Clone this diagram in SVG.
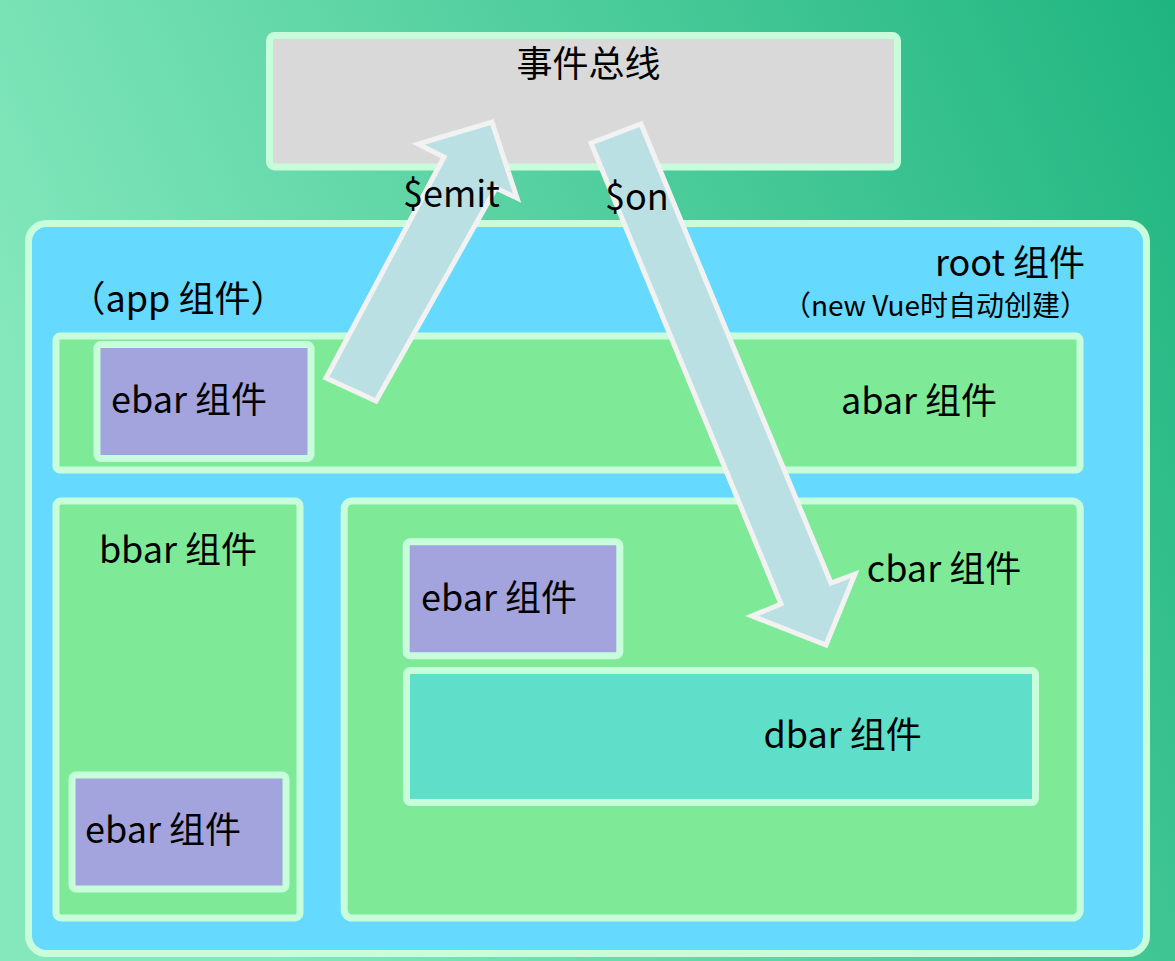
<svg xmlns="http://www.w3.org/2000/svg" width="1175" height="961" viewBox="0 0 1175 961">
<defs>
<linearGradient id="bg" x1="0" y1="0.35" x2="1" y2="0">
<stop offset="0" stop-color="#84e8bc"/>
<stop offset="1" stop-color="#1fb580"/>
</linearGradient>
<style>
.box{stroke:#c8fddb;stroke-width:7}
.bus{fill:#d9d9d9}
.root{fill:#66d9ff}
.grn{fill:#7eea98}
.pur{fill:#a3a3de}
.teal{fill:#5fdfc9}
.arrow{fill:#bbe0e3;stroke:#f2f2f2;stroke-width:5;stroke-linejoin:miter}
text{font-family:"Noto Sans CJK SC","Noto Sans",sans-serif;font-size:36px;fill:#000}
.m{text-anchor:middle}
.s{font-size:28px}
</style>
</defs>
<rect x="0" y="0" width="1175" height="961" fill="url(#bg)"/>
<g id="bus">
<rect class="box bus" x="269.5" y="35.5" width="628" height="131.5" rx="5"/>
<text class="m" x="588.5" y="77">事件总线</text>
</g>
<g id="root">
<rect class="box root" x="28.5" y="223.5" width="1118" height="730" rx="18"/>
<text class="m" x="1010" y="276">root 组件</text>
<text class="s" text-anchor="end" x="1088" y="316">（new Vue时自动创建）</text>
<text class="m" x="178" y="312">（app 组件）</text>
</g>
<g id="abar">
<rect class="box grn" x="56" y="336" width="1024" height="134" rx="4"/>
<text class="m" x="919" y="414">abar 组件</text>
</g>
<g id="ebar1">
<rect class="box pur" x="97" y="344.5" width="214" height="114" rx="4"/>
<text class="m" x="189" y="413">ebar 组件</text>
</g>
<g id="bbar">
<rect class="box grn" x="56" y="501" width="244" height="417" rx="5"/>
<text class="m" x="178" y="563">bbar 组件</text>
</g>
<g id="ebar3">
<rect class="box pur" x="72" y="775" width="214" height="114" rx="4"/>
<text class="m" x="163" y="843">ebar 组件</text>
</g>
<g id="cbar">
<rect class="box grn" x="344.2" y="501" width="736" height="417" rx="8"/>
<text class="m" x="944" y="582">cbar 组件</text>
</g>
<g id="ebar2">
<rect class="box pur" x="406.2" y="541.8" width="213.6" height="114" rx="4"/>
<text class="m" x="499" y="611">ebar 组件</text>
</g>
<g id="dbar">
<rect class="box teal" x="406.5" y="670.5" width="629" height="132" rx="4"/>
<text class="m" x="842.7" y="748">dbar 组件</text>
</g>
<g id="connectors">
<polygon class="arrow" points="326,378 376,401 496,188 517,198 492,122 418,144 444,157"/>
<text x="403" y="207">$emit</text>
<polygon class="arrow" points="591,143 641,124 831,583 855,574 826,645 752,616 781,604"/>
<text x="605" y="210">$on</text>
</g>
</svg>
